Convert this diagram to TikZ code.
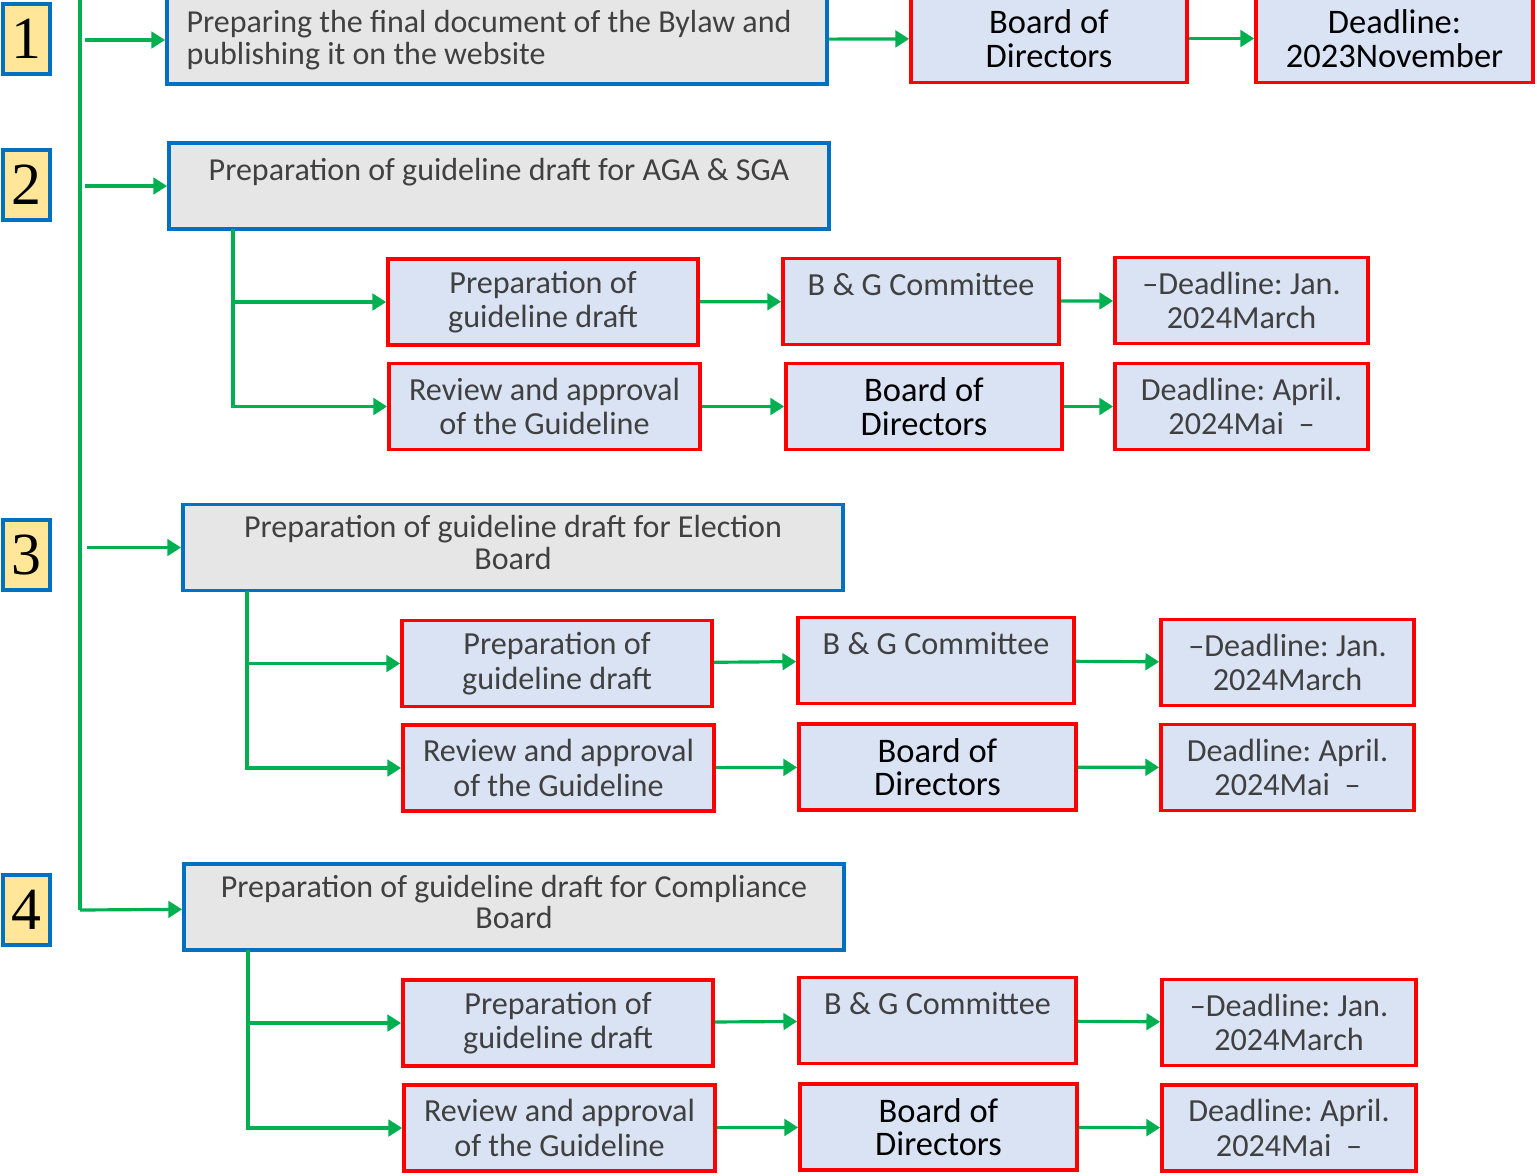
\documentclass[tikz,border=0pt]{standalone}
\usepackage{fontspec}
\setsansfont{Carlito}
\newfontfamily\numfont{Liberation Serif}
\usetikzlibrary{arrows.meta}

\definecolor{flowgreen}{HTML}{00B050}
\definecolor{stepblue}{HTML}{0070C0}
\definecolor{taskred}{HTML}{FF0000}
\definecolor{stepfill}{HTML}{E6E6E6}
\definecolor{taskfill}{HTML}{DAE3F3}
\definecolor{numfill}{HTML}{FFE699}
\definecolor{textgray}{HTML}{404040}

\tikzset{
    numbox/.style={draw=stepblue, fill=numfill, line width=1pt, minimum width=0.47cm,
        minimum height=0.7cm, inner sep=0pt, font=\numfont\fontsize{17}{20}\selectfont},
    stepbox/.style={draw=stepblue, fill=stepfill, line width=1pt, minimum width=6.6cm,
        minimum height=0.86cm, inner sep=2pt, align=center, text=textgray,
        font=\sffamily\frenchspacing\fontsize{9.1}{8.9}\selectfont},
    taskbox/.style={draw=taskred, fill=taskfill, line width=1pt, minimum height=0.86cm,
        inner sep=2pt, align=center, text=textgray,
        font=\sffamily\frenchspacing\fontsize{9.15}{9.8}\selectfont},
    boardbox/.style={taskbox, text=black, font=\sffamily\frenchspacing\fontsize{9.8}{9.5}\selectfont},
    flow/.style={draw=flowgreen, line width=0.9pt},
}

\begin{document}
\begin{tikzpicture}[x=0.01cm, y=-0.01cm, >={Triangle[length=3.9pt,width=4.7pt]}]

    \useasboundingbox (0,0) rectangle (1537,1175);

    % step 1
    \node [numbox] (n1) at (26.5,39) {1};
    \node [stepbox, align=left, minimum height=0.88cm] (B1) at (497,40)
        {Preparing the final document of the Bylaw and\hspace*{0.16cm}\\publishing it on the website};
    \node [boardbox, minimum width=2.76cm, minimum height=0.88cm] (D1) at (1049,38.5) {Board of\\Directors};
    \node [boardbox, minimum width=2.77cm, minimum height=0.88cm] (L1) at (1394.5,38.5) {Deadline:\\2023November};

    % step 2
    \node [numbox] (n2) at (26.5,185) {2};
    \node [stepbox] (B2) at (499,186) {Preparation of guideline draft for AGA \& SGA\\[-2pt]\strut};
    \node [taskbox, minimum width=3.1cm] (P2) at (543,302) {Preparation of\\guideline draft};
    \node [taskbox, minimum width=2.76cm] (G2) at (921,301.5) {B \& G Committee\\[-3pt]\strut};
    \node [taskbox, minimum width=2.53cm] (J2) at (1241.5,300.5) {–Deadline: Jan.\\2024March};
    \node [taskbox, minimum width=3.11cm] (R2) at (544.5,406.5) {Review and approval\\of the Guideline};
    \node [boardbox, minimum width=2.76cm] (D2) at (924,406.5) {Board of\\Directors};
    \node [taskbox, minimum width=2.53cm] (A2) at (1241.5,406.5) {Deadline: April.\\2024Mai\ \ –};

    % step 3
    \node [numbox] (n3) at (26.5,555) {3};
    \node [stepbox] (B3) at (513,547.5) {Preparation of guideline draft for Election\\Board\rule[-3pt]{0pt}{1pt}};
    \node [taskbox, minimum width=3.1cm] (P3) at (557,663.5) {Preparation of\\guideline draft};
    \node [taskbox, minimum width=2.76cm] (G3) at (936,660.5) {B \& G Committee\\[-3pt]\strut};
    \node [taskbox, minimum width=2.53cm] (J3) at (1287.5,662.5) {–Deadline: Jan.\\2024March};
    \node [taskbox, minimum width=3.11cm] (R3) at (558.5,768) {Review and approval\\of the Guideline};
    \node [boardbox, minimum width=2.77cm] (D3) at (937.5,767) {Board of\\Directors};
    \node [taskbox, minimum width=2.53cm] (A3) at (1287.5,767.5) {Deadline: April.\\2024Mai\ \ –};

    % step 4
    \node [numbox] (n4) at (26.5,910) {4};
    \node [stepbox] (B4) at (514,907) {Preparation of guideline draft for Compliance\\Board\rule[-3pt]{0pt}{1pt}};
    \node [taskbox, minimum width=3.1cm] (P4) at (558,1023) {Preparation of\\guideline draft};
    \node [taskbox, minimum width=2.77cm] (G4) at (937.5,1020.5) {B \& G Committee\\[-3pt]\strut};
    \node [taskbox, minimum width=2.54cm] (J4) at (1289,1022.5) {–Deadline: Jan.\\2024March};
    \node [taskbox, minimum width=3.11cm] (R4) at (559.5,1128) {Review and approval\\of the Guideline};
    \node [boardbox, minimum width=2.77cm] (D4) at (938.5,1127) {Board of\\Directors};
    \node [taskbox, minimum width=2.54cm] (A4) at (1289,1128) {Deadline: April.\\2024Mai\ \ –};

    % main line
    \coordinate (top) at (80,-5);
    \coordinate (bot) at (80,910);
    \coordinate (j2) at (233,229);
    \coordinate (j3) at (247,591);
    \coordinate (j4) at (248,950);

    \draw[flow] (top) -- (bot);
    \draw[flow, ->, shorten <=1.5pt] (top |- B1) -- (B1);
    \draw[flow, ->, shorten <=1.5pt] (top |- B2) -- (B2);
    \draw[flow, ->, shorten <=2pt] (top |- B3) -- (B3);
    \draw[flow, ->] (bot) -- (B4);

    \draw[flow, ->] (B1) -- (D1);
    \draw[flow, ->] (D1) -- (L1);

    \draw[flow, ->] (j2) |- (P2);
    \draw[flow, ->] (j2) |- (R2);
    \draw[flow, ->] (P2) -- (G2);
    \draw[flow, ->] (G2) -- (J2);
    \draw[flow, ->] (R2) -- (D2);
    \draw[flow, ->] (D2) -- (A2);

    \draw[flow, ->] (j3) |- (P3);
    \draw[flow, ->] (j3) |- (R3);
    \draw[flow, ->] (P3) -- (G3);
    \draw[flow, ->] (G3) -- (J3);
    \draw[flow, ->] (R3) -- (D3);
    \draw[flow, ->] (D3) -- (A3);

    \draw[flow, ->] (j4) |- (P4);
    \draw[flow, ->] (j4) |- (R4);
    \draw[flow, ->] (P4) -- (G4);
    \draw[flow, ->] (G4) -- (J4);
    \draw[flow, ->] (R4) -- (D4);
    \draw[flow, ->] (D4) -- (A4);

\end{tikzpicture}
\end{document}
